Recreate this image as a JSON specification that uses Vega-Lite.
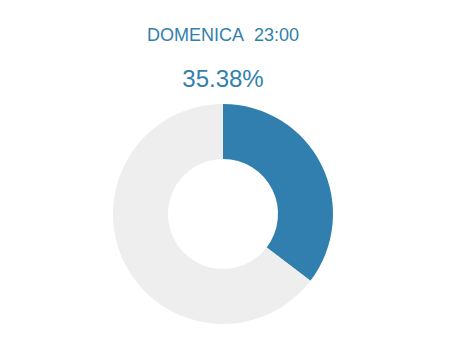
{
  "$schema": "https://vega.github.io/schema/vega-lite/v6.json",
  "width": 453,
  "height": 344,
  "autosize": {"type": "fit", "contains": "padding"},
  "padding": {"top": 27, "bottom": 8, "left": 0, "right": 7},
  "background": "white",
  "title": {
    "text": "DOMENICA\u00a0\u00a023:00",
    "subtitle": "35.38%",
    "anchor": "middle",
    "font": "Liberation Sans",
    "fontSize": 18,
    "fontWeight": "normal",
    "color": "#317fae",
    "subtitleFont": "Liberation Sans",
    "subtitleFontSize": 24,
    "subtitleColor": "#317fae",
    "subtitlePadding": 23,
    "offset": 0
  },
  "data": {
    "values": [
      {"part": "share", "value": 35.38, "idx": 1},
      {"part": "rest", "value": 64.62, "idx": 2}
    ]
  },
  "mark": {"type": "arc", "radius": 110, "radius2": 55, "stroke": null},
  "encoding": {
    "theta": {"field": "value", "type": "quantitative", "stack": true},
    "order": {"field": "idx", "type": "quantitative"},
    "color": {
      "field": "part",
      "type": "nominal",
      "scale": {"domain": ["share", "rest"], "range": ["#317fae", "#eeeeee"]},
      "legend": null
    }
  },
  "config": {"view": {"stroke": null}}
}
